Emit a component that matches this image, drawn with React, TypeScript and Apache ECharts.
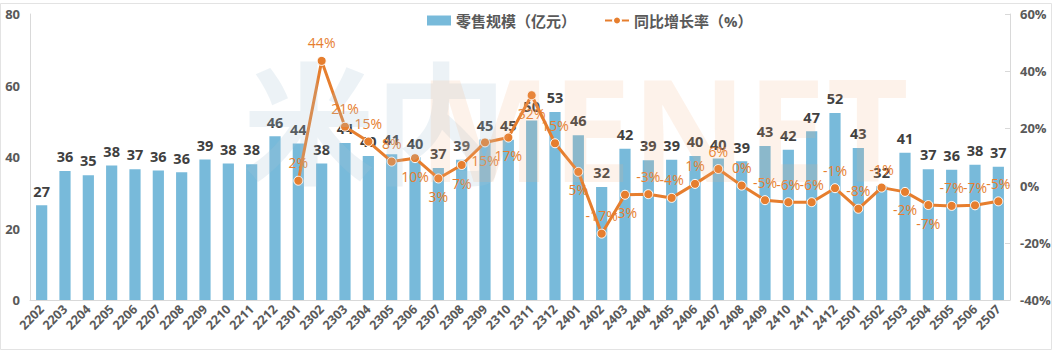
import React, { useEffect, useRef } from "react";
import * as echarts from "echarts";

const categories = [
  "2202", "2203", "2204", "2205", "2206", "2207", "2208", "2209", "2210", "2211", "2212",
  "2301", "2302", "2303", "2304", "2305", "2306", "2307", "2308", "2309", "2310", "2311", "2312",
  "2401", "2402", "2403", "2404", "2405", "2406", "2407", "2408", "2409", "2410", "2411", "2412",
  "2501", "2502", "2503", "2504", "2505", "2506", "2507",
];

const retailScale = [
  26.5, 36.1, 34.9, 37.6, 36.6, 36.2, 35.7, 39.3, 38.2, 38.0, 45.8,
  43.8, 38.2, 43.9, 40.3, 40.8, 39.9, 36.9, 39.2, 44.9, 44.8, 50.2, 52.6,
  46.1, 31.6, 42.3, 39.1, 39.2, 40.3, 39.6, 38.8, 43.1, 42.0, 47.2, 52.3,
  42.5, 31.8, 41.2, 36.6, 36.4, 37.8, 37.3,
];

const yoyGrowth: (number | null)[] = [
  null, null, null, null, null, null, null, null, null, null, null,
  1.7, 43.6, 20.6, 15.4, 8.4, 9.6, 2.5, 7.2, 15.1, 16.8, 31.6, 14.8,
  4.8, -16.8, -3.2, -3.0, -4.3, 0.6, 5.8, 0.0, -5.1, -5.8, -5.8, -0.9,
  -8.1, -0.7, -2.2, -6.8, -7.1, -6.9, -5.5,
];

const lineLabelPos = [
  "", "", "", "", "", "", "", "", "", "", "",
  "top", "top", "top", "top", "top", "bottom", "bottom", "bottom", "bottom", "bottom", "bottom", "top",
  "bottom", "top", "bottom", "top", "top", "top", "top", "top", "top", "top", "top", "top",
  "top", "top", "bottom", "bottom", "top", "top", "top",
];

const leftTicks = { min: 0, max: 80, interval: 20 };
const rightTicks = { min: -40, max: 60, interval: 20 };

const FONT = "'Open Sans', 'Noto Sans CJK SC', sans-serif";
const BAR_COLOR = "#78BADA";
const LINE_COLOR = "#E67E2E";
const AXIS_TEXT = "#595959";

export default function App() {
  const ref = useRef<HTMLDivElement>(null);

  useEffect(() => {
    if (!ref.current) return;
    const chart = echarts.init(ref.current, undefined, { renderer: "svg" });
    chart.setOption({
      animation: false,
      backgroundColor: "#ffffff",
      textStyle: { fontFamily: FONT },
      legend: {
        left: 422,
        top: 8,
        itemWidth: 24,
        itemHeight: 10,
        itemGap: 28,
        textStyle: { fontFamily: FONT, fontSize: 15, color: AXIS_TEXT, fontWeight: "bold" },
        data: [
          { name: "零售规模（亿元）", icon: "rect" },
          { name: "同比增长率（%）" },
        ],
      },
      graphic: [
        {
          type: "rect",
          shape: { x: 0.5, y: 3.5, width: 1051, height: 346 },
          style: { fill: "none", stroke: "#e3e3e3", lineWidth: 1 },
          silent: true,
          z: -10,
        },
        {
          type: "text",
          left: 243,
          top: 50,
          z: 100,
          silent: true,
          style: {
            text: "米内",
            fontSize: 132,
            fontWeight: "bold",
            fontFamily: "'Noto Sans CJK SC', sans-serif",
            fill: "rgba(170,195,212,0.22)",
          },
        },
        {
          type: "text",
          left: 418,
          top: 56,
          z: 100,
          silent: true,
          style: {
            text: "MENET",
            fontSize: 142,
            fontWeight: "bold",
            fontFamily: "'Open Sans', sans-serif",
            fill: "rgba(242,175,125,0.16)",
          },
        },
      ],
      grid: { left: 30, right: 46, top: 14, bottom: 54 },
      xAxis: {
        type: "category",
        data: categories,
        axisLine: { show: true, lineStyle: { color: "#d9d9d9" } },
        axisTick: { show: false },
        axisLabel: {
          interval: 0,
          rotate: 45,
          fontSize: 12.5,
          fontWeight: "bold",
          color: AXIS_TEXT,
          fontFamily: FONT,
          margin: 7,
        },
      },
      yAxis: [
        {
          type: "value",
          min: leftTicks.min,
          max: leftTicks.max,
          interval: leftTicks.interval,
          axisLine: { show: true, lineStyle: { color: "#d9d9d9" } },
          axisTick: { show: false },
          splitLine: { show: false },
          axisLabel: { fontSize: 13, fontWeight: "bold", color: AXIS_TEXT, fontFamily: FONT, margin: 10 },
        },
        {
          type: "value",
          min: rightTicks.min,
          max: rightTicks.max,
          interval: rightTicks.interval,
          position: "right",
          axisLine: { show: true, lineStyle: { color: "#d9d9d9" } },
          axisTick: { show: true, inside: true, length: 5, lineStyle: { color: "#d9d9d9" } },
          splitLine: { show: false },
          axisLabel: {
            fontSize: 13,
            fontWeight: "bold",
            color: AXIS_TEXT,
            fontFamily: FONT,
            margin: 10,
            formatter: (v: number) => `${v}%`,
          },
        },
      ],
      series: [
        {
          name: "零售规模（亿元）",
          type: "bar",
          yAxisIndex: 0,
          barWidth: "48%",
          data: retailScale,
          itemStyle: { color: BAR_COLOR },
          label: {
            show: true,
            position: "top",
            distance: 7,
            fontSize: 14.5,
            fontWeight: "bold",
            color: "#404040",
            fontFamily: FONT,
            formatter: (p: any) => `${Math.round(p.value)}`,
          },
          z: 2,
        },
        {
          name: "同比增长率（%）",
          type: "line",
          yAxisIndex: 1,
          data: yoyGrowth.map((v, i) => ({
            value: v,
            label: { position: lineLabelPos[i] || "top" },
          })),
          connectNulls: false,
          lineStyle: { color: LINE_COLOR, width: 3 },
          itemStyle: { color: LINE_COLOR, borderColor: "#ffffff", borderWidth: 1 },
          symbol: "circle",
          symbolSize: 9,
          label: {
            show: true,
            distance: 6,
            fontSize: 14,
            color: LINE_COLOR,
            fontFamily: FONT,
            formatter: (p: any) => (p.value == null ? "" : `${Math.round(p.value)}%`),
          },
          z: 5,
        },
      ],
    });
    return () => chart.dispose();
  }, []);

  return (
    <div
      ref={ref}
      style={{ position: "fixed", left: 0, top: 0, width: 1056, height: 354 }}
    />
  );
}
